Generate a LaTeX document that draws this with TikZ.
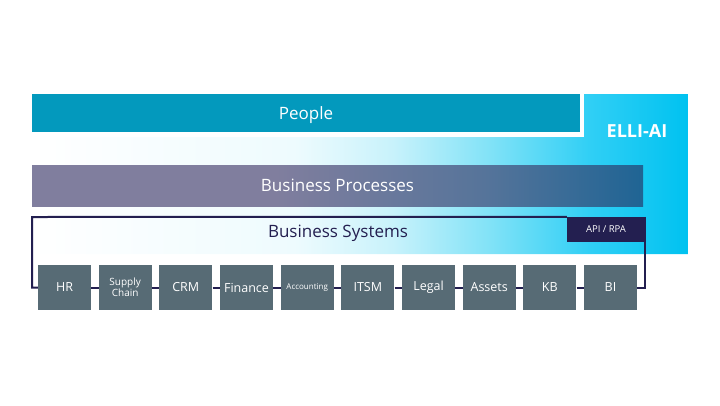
\documentclass[tikz,border=0pt]{standalone}
\usepackage{fontspec}
\setmainfont{Open Sans}
\definecolor{peopleblue}{HTML}{0399BD}
\definecolor{ellicyan}{HTML}{00C2F0}
\definecolor{elliA}{HTML}{EEFBFE}
\definecolor{elliB}{HTML}{C8F2FB}
\definecolor{elliC}{HTML}{80E2F7}
\definecolor{elliD}{HTML}{30CFF5}
\definecolor{bpgrey}{HTML}{807E9E}
\definecolor{bpmid}{HTML}{56749A}
\definecolor{bpblue}{HTML}{1F6494}
\definecolor{sysnavy}{HTML}{231F50}
\definecolor{boxslate}{HTML}{576B75}
\pgfdeclarehorizontalshading{elligrad}{100bp}{color(0bp)=(white); color(25bp)=(white);
  color(45bp)=(elliA); color(52.5bp)=(elliB); color(60bp)=(elliC);
  color(67.5bp)=(elliD); color(75bp)=(ellicyan); color(100bp)=(ellicyan)}
\pgfdeclarehorizontalshading{bpgrad}{100bp}{color(0bp)=(bpgrey); color(25bp)=(bpgrey);
  color(45bp)=(bpgrey); color(62bp)=(bpmid); color(75bp)=(bpblue); color(100bp)=(bpblue)}
\begin{document}
\begin{tikzpicture}[x=1pt,y=-1pt]
        \tikzset{
            sysbox/.style={rectangle,fill=boxslate,minimum width=53pt,minimum height=45pt,
                inner sep=0pt,text=white,align=center,font=\fontsize{12.5}{14}\selectfont},
            sysline/.style={draw=sysnavy,line width=2pt},
            bartext/.style={font=\fontsize{17}{20}\selectfont,text depth=0pt},
        }
        \useasboundingbox (0,0) rectangle (720,405);

        % ELLI-AI layer behind everything
        \shade[shading=elligrad] (32,137) -- (584,137) -- (584,94) -- (688,94)
            -- (688,254) -- (32,254) -- cycle;
        \node[text=white,font=\bfseries\fontsize{18}{20}\selectfont] (elli) at (637,131.5) {ELLI-AI};

        \node[fill=peopleblue,minimum width=548pt,minimum height=38pt,inner sep=0pt,
            text=white,bartext] (people) at (306,113) {People};
        \node[shading=bpgrad,minimum width=611pt,minimum height=41pt,inner sep=0pt,
            text=white,bartext] (bp) at (337.5,185.5) {Business Processes};

        \node[text=sysnavy,bartext] (bs) at (338,231) {Business Systems};
        \node[fill=sysnavy,text=white,minimum width=78pt,minimum height=25pt,inner sep=0pt,
            font=\fontsize{9.5}{11}\selectfont] (api) at (606,229.5) {API / RPA};

        \node[sysbox] (hr) at (64.5,287.5) {HR};
        \node[sysbox,font=\fontsize{10}{11}\selectfont] (sc) at (125.2,287.5) {Supply\\Chain};
        \node[sysbox] (crm) at (185.8,287.5) {CRM};
        \node[sysbox] (fin) at (246.5,287.5) {Finance};
        \node[sysbox,font=\fontsize{8}{10}\selectfont] (acc) at (307.2,287.5) {Accounting};
        \node[sysbox] (itsm) at (367.8,287.5) {ITSM};
        \node[sysbox] (legal) at (428.5,287.5) {Legal};
        \node[sysbox] (assets) at (489.2,287.5) {Assets};
        \node[sysbox] (kb) at (549.8,287.5) {KB};
        \node[sysbox] (bi) at (610.5,287.5) {BI};

        \draw[sysline] (hr.west) -- (32,287.5) -- (32,217) -- (api.north west);
        \draw[sysline] (api.north east) -- (api.south east) -- (bi.east -| api.south east) -- (bi.east);
        \draw[sysline] (hr) -- (sc);
        \draw[sysline] (sc) -- (crm);
        \draw[sysline] (crm) -- (fin);
        \draw[sysline] (fin) -- (acc);
        \draw[sysline] (acc) -- (itsm);
        \draw[sysline] (itsm) -- (legal);
        \draw[sysline] (legal) -- (assets);
        \draw[sysline] (assets) -- (kb);
        \draw[sysline] (kb) -- (bi);
    \end{tikzpicture}
\end{document}
